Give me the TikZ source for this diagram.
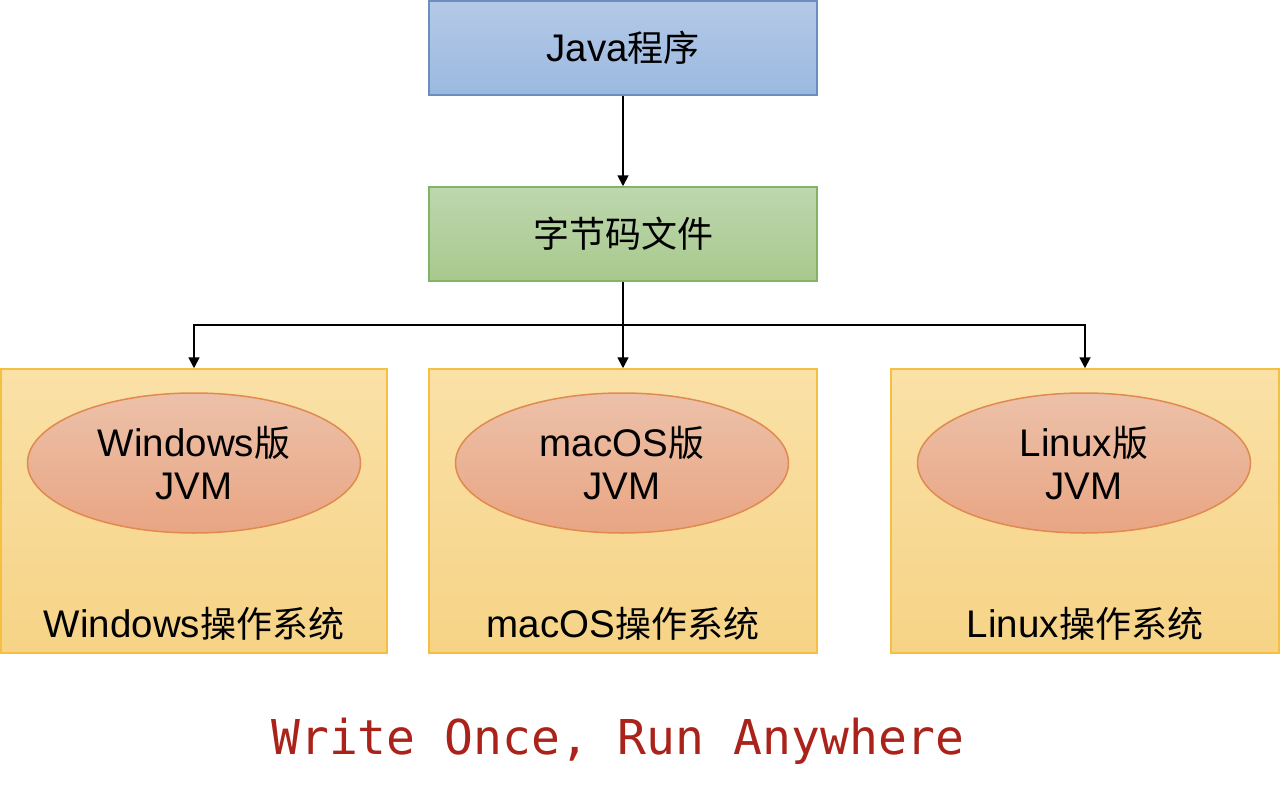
\documentclass[tikz,border=0pt]{standalone}
\usepackage{fontspec}
\setmainfont{Liberation Sans}
\newfontfamily\cjk{Noto Sans CJK SC}
\newfontfamily\monofnt{DejaVu Sans Mono}
\newcommand\zh[1]{{\cjk\fontsize{36}{43}\selectfont #1}}
\usetikzlibrary{shapes.geometric,arrows.meta}
\definecolor{bluetop}{HTML}{B4C9E7}
\definecolor{bluebot}{HTML}{9BB9E0}
\definecolor{blueline}{HTML}{6C8EBF}
\definecolor{greentop}{HTML}{BDD7AE}
\definecolor{greenbot}{HTML}{A8C98D}
\definecolor{greenline}{HTML}{82B366}
\definecolor{yeltop}{HTML}{FAE1A7}
\definecolor{yelbot}{HTML}{F6D386}
\definecolor{yelline}{HTML}{F5C042}
\definecolor{elltop}{HTML}{ECC1A9}
\definecolor{ellbot}{HTML}{E9A583}
\definecolor{ellline}{HTML}{E08A4F}
\definecolor{slogan}{HTML}{AA2219}
\tikzset{
  x=1pt,y=1pt,
  txt/.style={font=\fontsize{38.5}{43}\selectfont, text=black, align=center, inner sep=0pt},
  topbox/.style={rectangle, minimum width=388pt, minimum height=94pt, line width=1.5pt, txt},
  osbox/.style={rectangle, minimum width=386pt, minimum height=284pt, line width=1.5pt,
    top color=yeltop, bottom color=yelbot, draw=yelline},
  jvm/.style={ellipse, minimum width=333pt, minimum height=140pt, inner sep=0pt, line width=1.5pt,
    top color=elltop, bottom color=ellbot, draw=ellline, txt},
  conn/.style={line width=1.8pt, -{Triangle[length=11pt,width=11pt]}},
  link/.style={line width=1.8pt}
}
\begin{document}
\begin{tikzpicture}
\useasboundingbox (0,0) rectangle (1280,-800);
\node[topbox, top color=bluetop, bottom color=bluebot, draw=blueline] (java) at (623,-48) {Java\zh{程序}};
\node[topbox, top color=greentop, bottom color=greenbot, draw=greenline] (byte) at (623,-234) {\zh{字节码文件}};
\node[osbox] (win) at (194,-511) {};
\node[osbox, minimum width=388pt] (mac) at (623,-511) {};
\node[osbox, minimum width=388pt] (lin) at (1085,-511) {};
\node[jvm] (winjvm) at (194,-463) {Windows\zh{版}\\JVM};
\node[jvm] (macjvm) at (622,-463) {macOS\zh{版}\\JVM};
\node[jvm] (linjvm) at (1084,-463) {Linux\zh{版}\\JVM};
\node[txt, anchor=center] (winlbl) at ([yshift=30pt]win.south) {Windows\zh{操作系统}};
\node[txt, anchor=center] (maclbl) at ([yshift=30pt]mac.south) {macOS\zh{操作系统}};
\node[txt, anchor=center] (linlbl) at ([yshift=30pt]lin.south) {Linux\zh{操作系统}};
\node[font=\monofnt\fontsize{48}{50}\selectfont, text=slogan, inner sep=0pt] (slogan) at (618,-741) {Write Once, Run Anywhere};
\coordinate (split) at (623,-325);
\draw[conn] (java.south) -- (byte.north);
\draw[link] (byte.south) -- (split);
\draw[conn] (split) -| (win.north);
\draw[conn] (split) -- (mac.north);
\draw[conn] (split) -| (lin.north);
\end{tikzpicture}
\end{document}
